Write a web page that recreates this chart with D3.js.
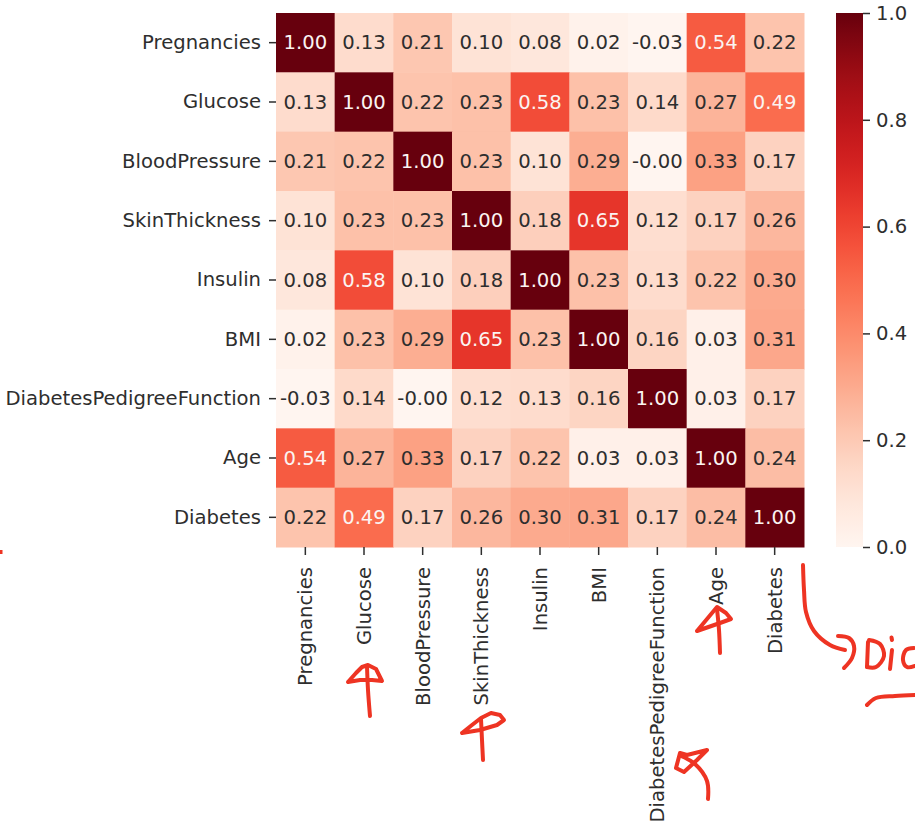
<!DOCTYPE html>
<html>
<head>
<meta charset="utf-8">
<script src="https://cdn.jsdelivr.net/npm/d3@7"></script>
<style>
  html, body { margin: 0; padding: 0; background: #fff; }
  svg { display: block; }
  text { font-family: "DejaVu Sans", sans-serif; }
</style>
</head>
<body>
<svg id="chart" width="915" height="830"></svg>
<script>
// Feature names of the diabetes dataset (rows and columns of the matrix)
const variables = [
  "Pregnancies", "Glucose", "BloodPressure", "SkinThickness", "Insulin",
  "BMI", "DiabetesPedigreeFunction", "Age", "Diabetes"
];

// Pearson correlation coefficients, one row per variable
const rowPregnancies   = [1.00, 0.13, 0.21, 0.10, 0.08, 0.02, -0.03, 0.54, 0.22];
const rowGlucose       = [0.13, 1.00, 0.22, 0.23, 0.58, 0.23, 0.14, 0.27, 0.49];
const rowBloodPressure = [0.21, 0.22, 1.00, 0.23, 0.10, 0.29, -0.004, 0.33, 0.17];
const rowSkinThickness = [0.10, 0.23, 0.23, 1.00, 0.18, 0.65, 0.12, 0.17, 0.26];
const rowInsulin       = [0.08, 0.58, 0.10, 0.18, 1.00, 0.23, 0.13, 0.22, 0.30];
const rowBMI           = [0.02, 0.23, 0.29, 0.65, 0.23, 1.00, 0.16, 0.03, 0.31];
const rowPedigree      = [-0.03, 0.14, -0.004, 0.12, 0.13, 0.16, 1.00, 0.03, 0.17];
const rowAge           = [0.54, 0.27, 0.33, 0.17, 0.22, 0.03, 0.03, 1.00, 0.24];
const rowDiabetes      = [0.22, 0.49, 0.17, 0.26, 0.30, 0.31, 0.17, 0.24, 1.00];

const corrRows = [
  rowPregnancies, rowGlucose, rowBloodPressure, rowSkinThickness, rowInsulin,
  rowBMI, rowPedigree, rowAge, rowDiabetes
];

// Colour bar tick values
const cbarTicks = [0.0, 0.2, 0.4, 0.6, 0.8, 1.0];

// ---------------------------------------------------------------------------
const svg = d3.select("#chart");
const FONT = 19.6;
const TEXT_DARK = "#2e2e2e";

const plot = { left: 276, right: 804, top: 13, bottom: 547 };

const x = d3.scaleBand().domain(variables).range([plot.left, plot.right]);
const y = d3.scaleBand().domain(variables).range([plot.top, plot.bottom]);
const color = d3.scaleSequential(d3.interpolateReds).domain([0, 1]).clamp(true);

// Flatten matrix into cells
const cells = [];
corrRows.forEach((row, i) => row.forEach((v, j) => {
  cells.push({ row: variables[i], col: variables[j], value: v });
}));

// Relative luminance, used to choose a readable annotation colour
function luminance(c) {
  const rgb = d3.rgb(c);
  const lin = [rgb.r, rgb.g, rgb.b].map(u => {
    u /= 255;
    return u <= 0.03928 ? u / 12.92 : Math.pow((u + 0.055) / 1.055, 2.4);
  });
  return 0.2126 * lin[0] + 0.7152 * lin[1] + 0.0722 * lin[2];
}

// Heatmap cells
svg.append("g")
  .selectAll("rect")
  .data(cells)
  .join("rect")
  .attr("x", d => x(d.col))
  .attr("y", d => y(d.row))
  .attr("width", x.bandwidth() + 0.5)
  .attr("height", y.bandwidth() + 0.5)
  .attr("fill", d => color(d.value));

// Annotations
svg.append("g")
  .selectAll("text")
  .data(cells)
  .join("text")
  .attr("x", d => x(d.col) + x.bandwidth() / 2)
  .attr("y", d => y(d.row) + y.bandwidth() / 2)
  .attr("text-anchor", "middle")
  .attr("dominant-baseline", "central")
  .attr("font-size", FONT)
  .attr("fill", d => luminance(color(d.value)) > 0.408 ? TEXT_DARK : "#fbf4f2")
  .text(d => d.value.toFixed(2));

// Axes
function styleAxis(g) {
  g.select(".domain").remove();
  g.selectAll(".tick line").attr("stroke", TEXT_DARK).attr("stroke-width", 1.5);
  g.selectAll(".tick text").attr("fill", TEXT_DARK).attr("font-size", FONT)
    .attr("font-family", "DejaVu Sans, sans-serif");
}

svg.append("g")
  .attr("transform", `translate(${plot.left},0)`)
  .call(d3.axisLeft(y).tickSize(7).tickPadding(8))
  .call(styleAxis);

const xAxis = svg.append("g")
  .attr("transform", `translate(0,${plot.bottom})`)
  .call(d3.axisBottom(x).tickSize(8).tickPadding(8))
  .call(styleAxis);
xAxis.selectAll(".tick text")
  .attr("transform", "rotate(-90)")
  .attr("x", -20)
  .attr("y", 0)
  .attr("dy", "0.35em")
  .attr("text-anchor", "end");

// Colour bar
const cbar = { left: 836, right: 863, top: 13, bottom: 547 };
const cy = d3.scaleLinear().domain([0, 1]).range([cbar.bottom, cbar.top]);

const grad = svg.append("defs").append("linearGradient")
  .attr("id", "redsGrad")
  .attr("x1", 0).attr("y1", 1).attr("x2", 0).attr("y2", 0);
d3.range(0, 1.0001, 0.02).forEach(t => {
  grad.append("stop").attr("offset", t).attr("stop-color", color(t));
});

svg.append("rect")
  .attr("x", cbar.left)
  .attr("y", cbar.top)
  .attr("width", cbar.right - cbar.left)
  .attr("height", cbar.bottom - cbar.top)
  .attr("fill", "url(#redsGrad)");

svg.append("g")
  .attr("transform", `translate(${cbar.right},0)`)
  .call(d3.axisRight(cy).tickValues(cbarTicks).tickFormat(d3.format(".1f"))
    .tickSize(7).tickPadding(6))
  .call(styleAxis);

// Hand-drawn red pen notes
const INK = "#ee3423";
const pen = svg.append("g")
  .attr("fill", "none")
  .attr("stroke", INK)
  .attr("stroke-width", 4)
  .attr("stroke-linecap", "round")
  .attr("stroke-linejoin", "round");

const smooth = d3.line().curve(d3.curveCatmullRom.alpha(0.5));
const straight = d3.line();

const strokesSmooth = [
  [[370, 716], [368, 690], [367, 666]],
  [[483, 760], [482, 740], [481, 719]],
  [[720, 653], [719, 630], [717, 609]],
  [[708, 799], [707, 781], [695, 764], [681, 756]],
  [[803, 565], [804, 590], [806, 612], [814, 631], [830, 645], [845, 650]],
  [[838, 636], [849, 638], [854, 646], [852, 658], [844, 668]],
  [[868, 642], [867, 667]],
  [[869, 640], [880, 644], [884, 656], [876, 667], [867, 667]],
  [[892, 650], [890, 669]],
  [[891.5, 637.5], [892, 640]],
  [[914, 648], [906, 650], [903, 660], [907, 667], [915, 666]],
  [[867, 705], [876, 698], [895, 696], [915, 695]]
];

const strokesStraight = [
  [[348, 682], [356, 673], [362, 667], [368, 665], [376, 669], [382, 681], [372, 680], [360, 680], [348, 682]],
  [[462, 733], [472, 725], [481, 718], [491, 713], [500, 715], [504, 720], [497, 725], [480, 730], [462, 733]],
  [[697, 631], [707, 619], [717, 607], [726, 613], [731, 619], [720, 623], [697, 631]],
  [[680, 753], [676, 768], [684, 772], [697, 760], [707, 750], [687, 755], [680, 753]]
];

pen.selectAll("path.s").data(strokesSmooth).join("path").attr("class", "s").attr("d", smooth);
pen.selectAll("path.l").data(strokesStraight).join("path").attr("class", "l").attr("d", straight);

svg.append("rect").attr("x", 0).attr("y", 550).attr("width", 2.5).attr("height", 4).attr("fill", INK);
</script>
</body>
</html>
